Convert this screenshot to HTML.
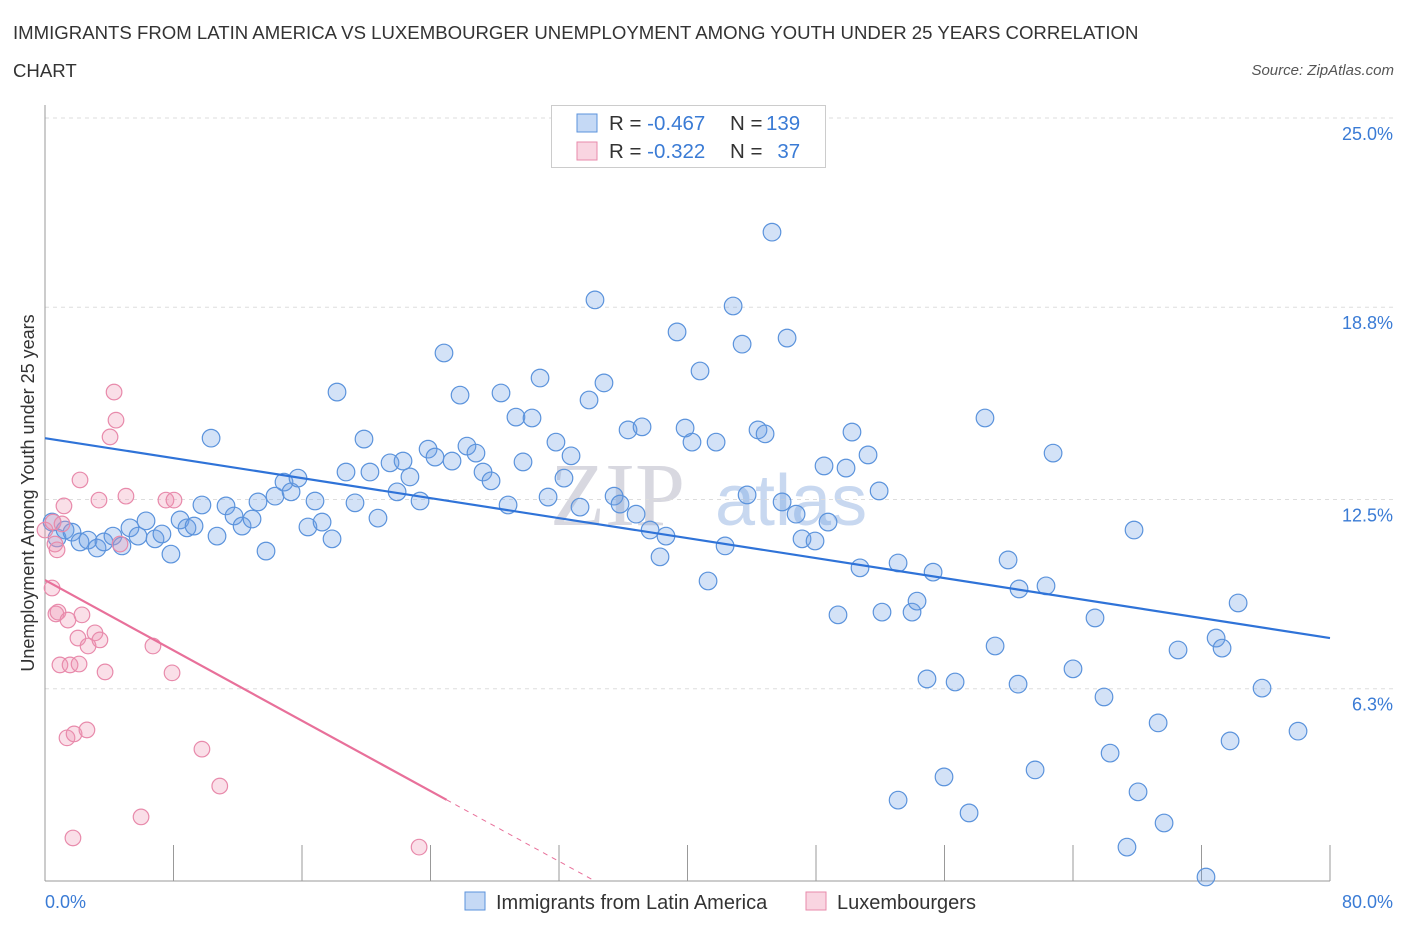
<!DOCTYPE html>
<html><head><meta charset="utf-8">
<style>
body{margin:0;background:#fff;font-family:"Liberation Sans",sans-serif;}
#wrap{position:relative;width:1406px;height:930px;overflow:hidden;}
.t{position:absolute;white-space:nowrap;}
</style></head>
<body>
<div id="wrap">
<div class="t" style="left:13px;top:14px;font-size:18.6px;color:#333;line-height:38px;">IMMIGRANTS FROM LATIN AMERICA VS LUXEMBOURGER UNEMPLOYMENT AMONG YOUTH UNDER 25 YEARS CORRELATION<br>CHART</div>
<div class="t" style="right:12px;top:62px;font-size:15px;color:#555;font-style:italic;">Source: ZipAtlas.com</div>
<svg id="svg" width="1406" height="930" style="position:absolute;left:0;top:0;"></svg>
</div>
<script>
const yTicks=[25,18.8,12.5,6.3];
const yTickLabels=["25.0%","18.8%","12.5%","6.3%"];
const xLabels=["0.0%","80.0%"];
const blueX=[.44,.75,1.25,1.68,2.18,2.68,3.24,3.67,4.23,4.79,5.29,5.79,6.29,6.85,7.28,7.84,8.41,8.84,9.28,10.34,9.77,10.71,11.27,11.77,12.27,12.89,13.26,13.76,14.32,14.88,15.32,15.75,16.37,16.81,17.25,17.87,18.18,18.74,19.30,19.86,20.23,20.73,21.48,21.92,22.29,22.72,23.35,23.85,24.28,24.84,25.34,25.84,26.27,26.83,27.27,27.77,28.39,28.83,29.32,29.76,30.32,30.82,31.32,31.81,32.31,32.75,33.31,33.87,34.24,34.80,35.43,35.80,36.30,36.80,37.17,37.67,38.29,38.66,39.35,39.85,40.28,40.78,41.28,41.78,42.34,42.84,43.40,43.71,44.39,44.83,45.26,45.89,46.20,46.76,47.13,47.94,48.50,48.75,49.37,49.87,50.24,50.74,51.24,51.93,52.11,53.11,53.11,53.98,54.29,54.91,55.29,55.97,56.66,57.53,58.52,59.15,59.96,60.58,60.64,61.64,62.32,62.76,64.00,65.37,65.93,66.31,67.36,67.80,68.05,69.30,69.67,70.54,72.28,72.91,73.28,73.78,74.28,75.77,78.01];
const blueY=[11.76,11.24,11.50,11.43,11.11,11.17,10.91,11.11,11.30,10.98,11.57,11.30,11.80,11.21,11.37,10.71,11.83,11.57,11.63,14.51,12.32,11.30,12.29,11.96,11.63,11.86,12.42,10.81,12.61,13.07,12.75,13.20,11.60,12.45,11.76,11.21,16.02,13.40,12.39,14.48,13.40,11.89,13.70,12.75,13.76,13.24,12.45,14.15,13.89,17.30,13.76,15.92,14.25,14.02,13.40,13.11,15.99,12.32,15.20,13.73,15.17,16.48,12.58,14.38,13.20,13.93,12.25,15.76,19.04,16.32,12.61,12.35,14.78,12.02,14.88,11.50,10.62,11.30,17.99,14.84,14.38,16.71,9.83,14.38,10.98,18.84,17.59,12.65,14.78,14.65,21.26,12.42,17.79,12.02,11.21,11.14,13.60,11.76,8.72,13.53,14.71,10.26,13.96,12.78,8.81,10.42,2.65,8.81,9.17,6.62,10.12,3.41,6.52,2.23,15.17,7.70,10.52,6.45,9.57,3.64,9.67,14.02,6.95,8.62,6.03,4.19,1.11,11.50,2.92,5.18,1.90,7.57,0.13,7.96,7.63,4.59,9.11,6.32,4.91];
const pinkX=[0,.44,.5,.62,.68,.75,.81,.93,1.06,1.18,1.37,1.43,1.56,1.74,1.81,2.05,2.12,2.18,2.30,2.68,2.61,3.11,3.36,3.42,3.74,4.05,4.30,4.42,4.67,5.04,5.98,6.72,7.53,7.91,8.03,9.77,10.88,23.29];
const pinkY=[11.50,9.60,11.76,11.04,8.75,10.85,8.81,7.08,11.70,12.29,4.69,8.55,7.08,1.41,4.82,7.96,7.11,13.14,8.72,7.70,4.95,8.13,12.48,7.90,6.85,14.55,16.02,15.10,11.04,12.61,2.10,7.70,12.48,6.82,12.48,4.32,3.11,1.11];
const blueTrend=[14.51,7.96];
const pinkTrend=[9.86,-0.288];

const X0=45,X1=1330,YB=881,YT=118;
const sx=v=>X0+(v/80)*(X1-X0);
const sy=v=>YB-(v/25)*(YB-YT);
const svg=document.getElementById('svg');
const NS='http://www.w3.org/2000/svg';
function mk(tag,attrs,parent){const e=document.createElementNS(NS,tag);for(const k in attrs)e.setAttribute(k,attrs[k]);(parent||svg).appendChild(e);return e;}

let wm=mk('text',{x:550,y:525,'font-size':90,fill:'#d8d8e0','font-family':'Liberation Serif, serif'});wm.textContent='ZIP';


let wm2=mk('text',{x:715,y:525,'font-size':72,fill:'#c8d8f0','font-family':'Liberation Sans, sans-serif'});wm2.textContent='atlas';



yTicks.forEach((t,i)=>{
  const g=mk('line',{x1:X0,x2:1395,y1:sy(t),y2:sy(t),stroke:'#ddd','stroke-dasharray':'4,4'});
  
  
  const l=mk('text',{x:1393,y:sy(t)+22,'text-anchor':'end','font-size':18,fill:'#3a7bd5'});
  l.textContent=yTickLabels[i];
  
  
});
mk('line',{x1:X0,x2:X0,y1:105,y2:YB,stroke:'#999'});
mk('line',{x1:X0,x2:X1,y1:YB,y2:YB,stroke:'#999'});
for(let i=0;i<=10;i++){const tk=mk('line',{x1:sx(i*8),x2:sx(i*8),y1:845,y2:YB,stroke:'#999'});

}
xLabels.forEach((s,i)=>{const l=mk('text',{x:i?1393:45,y:908,'text-anchor':i?'end':'start','font-size':18,fill:'#3a7bd5'});l.textContent=s;

});
const yt=mk('text',{x:0,y:0,transform:'translate(34,493) rotate(-90)','text-anchor':'middle','font-size':18,fill:'#333'});
yt.textContent='Unemployment Among Youth under 25 years';



blueX.forEach((v,i)=>{const c=mk('circle',{cx:sx(v),cy:sy(blueY[i]),r:8.8,fill:'rgba(110,160,230,0.3)',stroke:'#5b93dc','stroke-width':1.2});

});
pinkX.forEach((v,i)=>{const c=mk('circle',{cx:sx(v),cy:sy(pinkY[i]),r:7.8,fill:'rgba(240,150,180,0.3)',stroke:'#e88aab','stroke-width':1.2});

});

const bl=mk('line',{x1:sx(0),y1:sy(blueTrend[0]),x2:sx(80),y2:sy(blueTrend[1]),stroke:'#2f73d8','stroke-width':2.2});


const pe=25, pz=-pinkTrend[0]/pinkTrend[1];
const pl=mk('line',{x1:sx(0),y1:sy(pinkTrend[0]),x2:sx(pe),y2:sy(pinkTrend[0]+pinkTrend[1]*pe),stroke:'#e8709a','stroke-width':2.2});


const pd=mk('line',{x1:sx(pe),y1:sy(pinkTrend[0]+pinkTrend[1]*pe),x2:sx(pz),y2:sy(0),stroke:'#e8709a','stroke-width':1,'stroke-dasharray':'5,5'});



const lg=mk('g',{});


mk('rect',{x:551.5,y:105.5,width:274,height:62,fill:'#fff',stroke:'#ccc'},lg);
mk('rect',{x:577,y:114,width:20,height:18,fill:'rgba(110,160,230,0.4)',stroke:'#5b93dc'},lg);
mk('rect',{x:577,y:142,width:20,height:18,fill:'rgba(240,150,180,0.4)',stroke:'#e88aab'},lg);
[["R = ","-0.467","N = ","139",130],["R = ","-0.322","N = ","  37",158]].forEach(r=>{
  const t=mk('text',{x:609,y:r[4],'font-size':20.5,fill:'#333','xml:space':'preserve'},lg);
  t.innerHTML=`${r[0]}<tspan fill="#3a7bd5">${r[1]}</tspan><tspan x="730">${r[2]}</tspan><tspan fill="#3a7bd5" x="766" style="white-space:pre">${r[3]}</tspan>`;
  
  
});
const bl2=mk('g',{});


mk('rect',{x:465,y:892,width:20,height:18,fill:'rgba(110,160,230,0.4)',stroke:'#5b93dc'},bl2);
let a=mk('text',{x:496,y:909,'font-size':20,fill:'#333'},bl2);a.textContent='Immigrants from Latin America';


mk('rect',{x:806,y:892,width:20,height:18,fill:'rgba(240,150,180,0.4)',stroke:'#e88aab'},bl2);
let b=mk('text',{x:837,y:909,'font-size':20,fill:'#333'},bl2);b.textContent='Luxembourgers';


</script>
</body></html>
